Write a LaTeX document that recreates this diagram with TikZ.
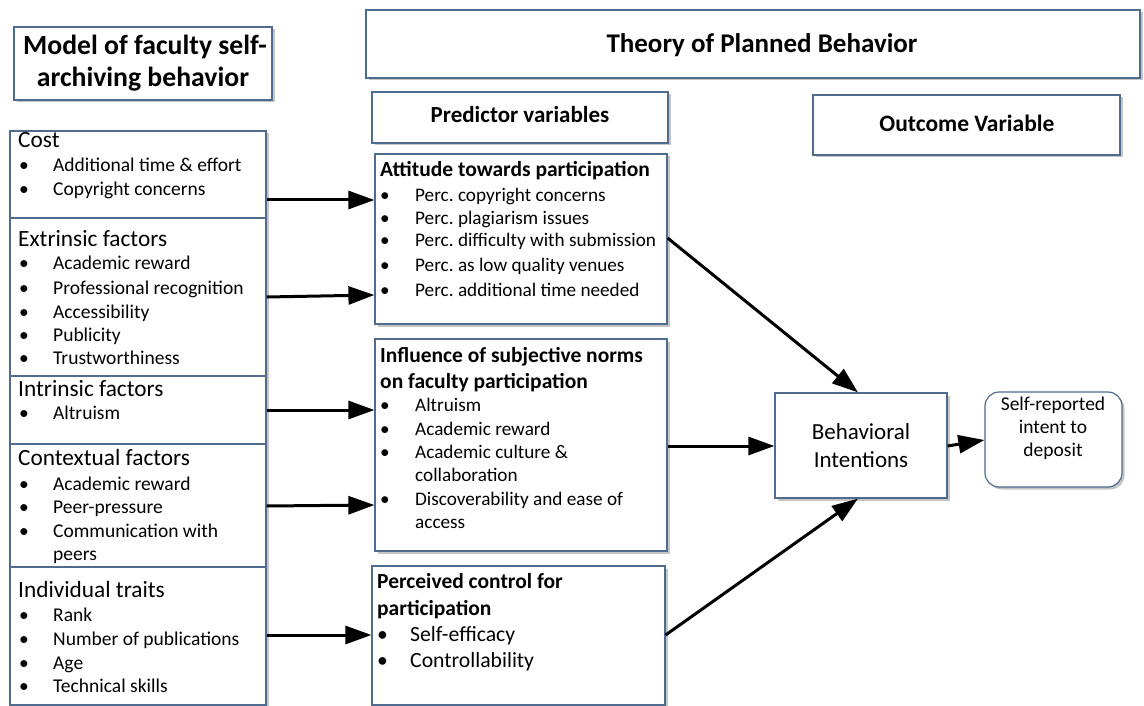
\documentclass[tikz,border=0pt]{standalone}
\usepackage{fontspec}
\setmainfont{Carlito}
\usetikzlibrary{arrows.meta,shadows,fit}
\definecolor{bord}{HTML}{4F6B8E}
\newcommand\bul[2]{\makebox[#1][l]{\textbullet}#2}
\newcommand\tl[5]{\node[#4,anchor=base west,inner sep=0pt] (#1) at (#2,#3) {#5};}
\begin{document}
\begin{tikzpicture}[x=1pt,y=-1pt,
  box/.style={draw=bord,line width=1.2pt,fill=white,inner sep=0pt,
    drop shadow={shadow xshift=2.5pt,shadow yshift=-2.5pt,fill=black!45,opacity=.5}},
  rbox/.style={box,rounded corners=14pt},
  lh/.style={font=\fontsize{23.3}{26}\selectfont},
  li/.style={font=\fontsize{19.5}{22}\selectfont},
  ph/.style={font=\fontsize{21.5}{24}\selectfont\bfseries},
  pi/.style={font=\fontsize{19.2}{22}\selectfont},
  ci/.style={font=\fontsize{21.7}{24}\selectfont},
  ctr/.style={inner sep=0pt,anchor=base},
  arr/.style={line width=3pt,-{Triangle[length=26pt,width=18pt]}},
]
\useasboundingbox (0,0) rectangle (1144,706);

% ---- boxes
\node[box,fit={(14,27) (272,100)}] (model) {};
\node[box,fit={(366,10) (1140,78)}] (theory) {};
\node[box,fit={(372,92) (668,143)}] (pred) {};
\node[box,fit={(813,95) (1120,155)}] (outc) {};

\node[box,fit={(10,131) (266,218)}] (cost) {};
\node[box,fit={(10,218) (266,376)}] (extr) {};
\node[box,fit={(10,376) (266,444)}] (intr) {};
\node[box,fit={(10,444) (266,567)}] (cont) {};
\node[box,fit={(10,567) (266,705)}] (indiv) {};

\node[box,fit={(375,154) (667,324)}] (att) {};
\node[box,fit={(375,339) (667,551)}] (infl) {};
\node[box,fit={(372,566) (665,705)}] (perc) {};

\node[box,fit={(775,393) (947,498)}] (beh) {};
\node[rbox,fit={(985,392) (1122,487)}] (self) {};

% ---- titles
\node[ctr,font=\fontsize{27.7}{30}\selectfont\bfseries] (m1) at (145,55) {Model of faculty self-};
\node[ctr,font=\fontsize{27.7}{30}\selectfont\bfseries] (m2) at (143,87) {archiving behavior};
\node[ctr,font=\fontsize{27}{30}\selectfont\bfseries] (t1) at (762,53) {Theory of Planned Behavior};
\node[ctr,font=\fontsize{23}{26}\selectfont\bfseries] (p1) at (520,123) {Predictor variables};
\node[ctr,font=\fontsize{23.5}{26}\selectfont\bfseries] (o1) at (967,132) {Outcome Variable};

% ---- left column
\tl{ch}{18}{148}{lh}{Cost}
\tl{c1}{19}{172}{li}{\bul{34pt}{Additional time \& effort}}
\tl{c2}{19}{196}{li}{\bul{34pt}{Copyright concerns}}

\tl{eh}{18}{246}{lh}{Extrinsic factors}
\tl{e1}{19}{269}{li}{\bul{34pt}{Academic reward}}
\tl{e2}{19}{294}{li}{\bul{34pt}{Professional recognition}}
\tl{e3}{19}{318}{li}{\bul{34pt}{Accessibility}}
\tl{e4}{19}{341}{li}{\bul{34pt}{Publicity}}
\tl{e5}{19}{364}{li}{\bul{34pt}{Trustworthiness}}

\tl{ih}{18}{396}{lh}{Intrinsic factors}
\tl{i1}{19}{419}{li}{\bul{34pt}{Altruism}}

\tl{xh}{18}{465}{lh}{Contextual factors}
\tl{x1}{19}{490}{li}{\bul{34pt}{Academic reward}}
\tl{x2}{19}{513}{li}{\bul{34pt}{Peer-pressure}}
\tl{x3}{19}{537}{li}{\bul{34pt}{Communication with}}
\tl{x4}{53}{560}{li}{peers}

\tl{dh}{18}{597}{lh}{Individual traits}
\tl{d1}{19}{621}{li}{\bul{34pt}{Rank}}
\tl{d2}{19}{645}{li}{\bul{34pt}{Number of publications}}
\tl{d3}{19}{669}{li}{\bul{34pt}{Age}}
\tl{d4}{19}{692}{li}{\bul{34pt}{Technical skills}}

% ---- predictor boxes
\tl{ah}{380}{177}{ph}{Attitude towards participation}
\tl{a1}{380}{201}{pi}{\bul{35pt}{Perc.\ copyright concerns}}
\tl{a2}{380}{224}{pi}{\bul{35pt}{Perc.\ plagiarism issues}}
\tl{a3}{380}{247}{pi}{\bul{35pt}{Perc.\ difficulty with submission}}
\tl{a4}{380}{271}{pi}{\bul{35pt}{Perc.\ as low quality venues}}
\tl{a5}{380}{296}{pi}{\bul{35pt}{Perc.\ additional time needed}}

\tl{nh1}{380}{362}{ph}{Influence of subjective norms}
\tl{nh2}{380}{388}{ph}{on faculty participation}
\tl{n1}{380}{411}{pi}{\bul{35pt}{Altruism}}
\tl{n2}{380}{435}{pi}{\bul{35pt}{Academic reward}}
\tl{n3}{380}{458}{pi}{\bul{35pt}{Academic culture \&}}
\tl{n4}{415}{481}{pi}{collaboration}
\tl{n5}{380}{505}{pi}{\bul{35pt}{Discoverability and ease of}}
\tl{n6}{415}{528}{pi}{access}

\tl{qh1}{377}{588}{ph}{Perceived control for}
\tl{qh2}{377}{615}{ph}{participation}
\tl{q1}{377}{641}{ci}{\bul{33pt}{Self-efficacy}}
\tl{q2}{377}{667}{ci}{\bul{33pt}{Controllability}}

% ---- outcome texts
\node[ctr,font=\fontsize{23}{26}\selectfont] (b1) at (861,439) {Behavioral};
\node[ctr,font=\fontsize{23}{26}\selectfont] (b2) at (861,467) {Intentions};
\node[ctr,font=\fontsize{19.5}{22}\selectfont] (s1) at (1053,410) {Self-reported};
\node[ctr,font=\fontsize{19.5}{22}\selectfont] (s2) at (1053,433) {intent to};
\node[ctr,font=\fontsize{19.5}{22}\selectfont] (s3) at (1053,456) {deposit};

% ---- connectors
\draw[arr] (cost.east |- 0,200) -- (att.west |- 0,200);
\draw[arr] (extr.east |- 0,297) -- (att.west |- 0,295);
\draw[arr] (intr.east |- 0,410) -- (infl.west |- 0,410);
\draw[arr] (cont.east |- 0,506) -- (infl.west |- 0,505);
\draw[arr] (indiv.east |- 0,635) -- (perc.west |- 0,635);
\draw[arr] (att.east |- 0,238) -- (beh.north -| 858,0);
\draw[arr] (infl.east |- 0,446) -- (beh.west |- 0,446);
\draw[arr] (perc.east |- 0,635) -- (beh.south -| 858,0);
\draw[arr] (beh.east |- 0,446) -- (self.west |- 0,440);
\end{tikzpicture}
\end{document}
